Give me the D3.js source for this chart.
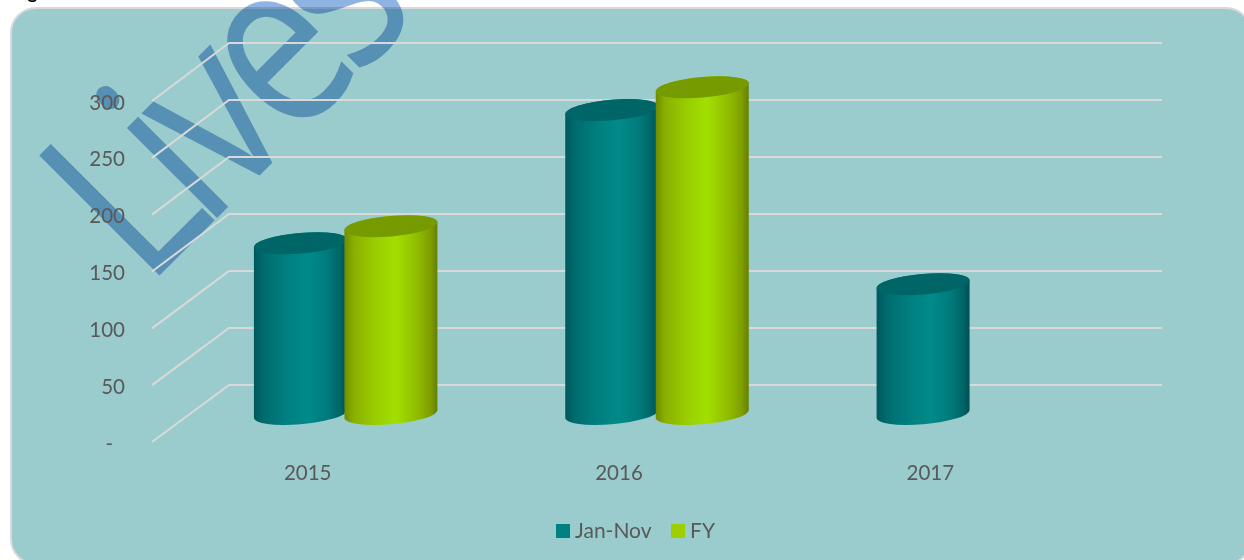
<!DOCTYPE html>
<html><head><meta charset="utf-8">
<script src="https://cdnjs.cloudflare.com/ajax/libs/d3/7.8.5/d3.min.js"></script>
<style>html,body{margin:0;padding:0;background:#fff;overflow:hidden}svg{display:block}
text{font-family:Lato,"Open Sans",sans-serif}</style></head>
<body><div id="chart"></div>
<script>
const categories = ["2015","2016","2017"];
const janNov = [150,267,114];
const fy = [165,287,null];
const valueTicks = [0,50,100,150,200,250,300];
const legendLabels = ["Jan-Nov","FY"];
const titleText = "Figure";
const watermark = "Lives";

const W=1244,H=560;
const svg=d3.select("#chart").append("svg").attr("width",W).attr("height",H);
const defs=svg.append("defs");
function grad(id,stops){
  const g=defs.append("linearGradient").attr("id",id).attr("x1","0").attr("x2","1").attr("y1","0").attr("y2","0");
  stops.forEach(s=>g.append("stop").attr("offset",s[0]).attr("stop-color",s[1]));
}
grad("tealBody",[[0,"#00585C"],[.12,"#006D70"],[.35,"#007F80"],[.58,"#008A89"],[.8,"#007A7B"],[.93,"#006466"],[1,"#005053"]]);
grad("greenBody",[[0,"#6E8C00"],[.1,"#8AB000"],[.32,"#98CC00"],[.55,"#A2DF00"],[.78,"#90BD00"],[.92,"#7F9F00"],[1,"#658000"]]);

// panel
svg.append("text").attr("x",12).attr("y",-1).attr("font-size",19).attr("font-weight",700).attr("fill","#000").text(titleText);
svg.append("rect").attr("x",11).attr("y",8).attr("width",1240).attr("height",556).attr("rx",25)
  .attr("fill","#9ACCCD").attr("stroke","#D9D9D9").attr("stroke-width",2);

// watermark
svg.append("text").attr("transform","translate(146,289) rotate(-45) scale(.82,1)")
  .attr("font-size",238).attr("fill","#8FB4E1").style("mix-blend-mode","multiply")
  .style("font-family","'Open Sans'").attr("dx","0 -22 -15 -17 -20").text(watermark);

// scales
const x=d3.scaleBand().domain(categories).range([152,1086]);
const yFront=d3.scaleLinear().domain([0,300]).range([442,101]);
const yBack=d3.scaleLinear().domain([0,300]).range([385,43]);
const yMid=v=>(yFront(v)+yBack(v))/2+0.5;
const depthX=77, backRight=1162;

// grid
const grid=svg.append("g").attr("fill","none").attr("stroke","#D9D9D9").attr("stroke-width",2);
grid.selectAll("path").data(valueTicks).join("path")
  .attr("d",v=>d3.line()([[x.range()[0],yFront(v)],[x.range()[0]+depthX,yBack(v)],[backRight,yBack(v)]]));

// axes
const axY=svg.append("g").attr("transform","translate(125,1.5)")
  .call(d3.axisLeft(yFront).tickValues(valueTicks).tickSize(0).tickPadding(0).tickFormat(d=>d===0?"-":d));
axY.selectAll(".tick").filter(d=>d===0).select("text").attr("x",-12);
const axX=svg.append("g").attr("transform","translate(0,465)")
  .call(d3.axisBottom(x).tickSize(0).tickPadding(0));
[axY,axX].forEach(a=>{a.select(".domain").remove();
  a.selectAll("text").attr("fill","#595959").style("font-family","Lato").attr("font-size",20.5);});

// cylinders
const series=[{v:janNov,off:-45.25,body:"url(#tealBody)",top:"#006567"},
              {v:fy,off:45.25,body:"url(#greenBody)",top:"#769B00"}];
const halfW=46.5,ry=10.3,tilt=-5*Math.PI/180;
const rx=Math.sqrt(Math.max(1,(halfW*halfW-ry*ry*Math.sin(tilt)**2)/Math.cos(tilt)**2));
const tx=Math.atan2(-ry*Math.sin(tilt),rx*Math.cos(tilt));
const ex=rx*Math.cos(tx)*Math.cos(tilt)-ry*Math.sin(tx)*Math.sin(tilt);
const ey=rx*Math.cos(tx)*Math.sin(tilt)+ry*Math.sin(tx)*Math.cos(tilt);
const rot=-5;
const bars=svg.append("g");
series.forEach(s=>{
  const data=categories.map((c,i)=>({c,v:s.v[i]})).filter(d=>d.v!==null);
  const cx=d=>x(d.c)+x.bandwidth()/2+38+s.off;
  bars.selectAll(null).data(data).join("path").attr("fill",s.body)
    .attr("d",d=>{const c=cx(d),t=yMid(d.v),b=yMid(0);
      return `M${c+ex},${t+ey}L${c+ex},${b+ey}A${rx},${ry} ${rot} 0 1 ${c-ex},${b-ey}L${c-ex},${t-ey}A${rx},${ry} ${rot} 0 1 ${c+ex},${t+ey}Z`;});
  bars.selectAll(null).data(data).join("ellipse").attr("fill",s.top)
    .attr("rx",rx).attr("ry",ry)
    .attr("transform",d=>`translate(${cx(d)},${yMid(d.v)}) rotate(${rot})`);
});

// legend
const legendColors=["#008080","#9DCE00"], legendX=[556,671];
const lg=svg.append("g");
legendLabels.forEach((t,i)=>{
  lg.append("rect").attr("x",legendX[i]).attr("y",524).attr("width",14).attr("height",14).attr("fill",legendColors[i]);
  lg.append("text").attr("x",legendX[i]+19).attr("y",538).attr("font-size",21).attr("fill","#595959").text(t);
});
</script></body></html>
